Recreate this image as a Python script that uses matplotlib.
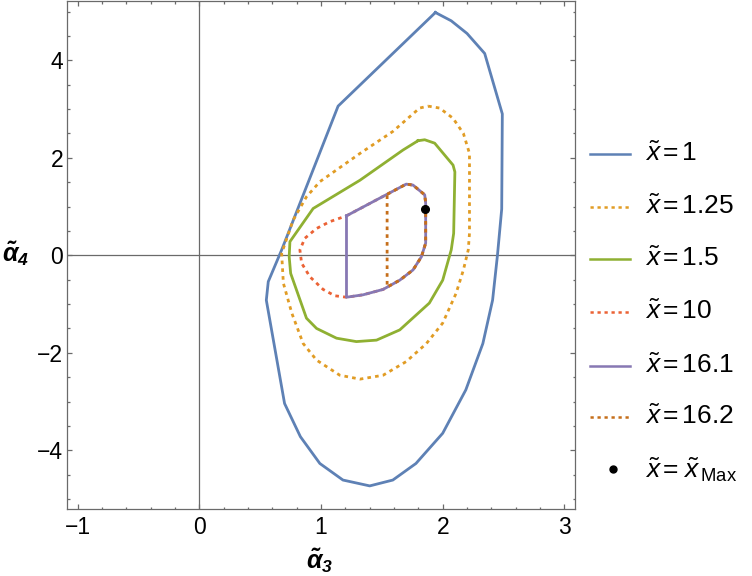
import matplotlib
matplotlib.use("Agg")
import matplotlib.pyplot as plt
from matplotlib.lines import Line2D
from matplotlib.ticker import MultipleLocator

plt.rcParams['font.family'] = ['Liberation Sans', 'DejaVu Sans']
plt.rcParams['mathtext.fontset'] = 'custom'
plt.rcParams['mathtext.rm'] = 'Liberation Sans'
plt.rcParams['mathtext.it'] = 'Liberation Sans:italic'
plt.rcParams['mathtext.bf'] = 'Liberation Sans:bold:italic'

# ---- data (alpha3, alpha4) contour outlines ----
a3_x1 = [1.94, 2.07, 2.20, 2.345, 2.49, 2.485, 2.45, 2.41, 2.33, 2.19, 2.00, 1.78, 1.59, 1.40,
         1.18, 0.99, 0.83, 0.70, 0.55, 0.566, 0.676, 1.14, 1.94]
a4_x1 = [4.98, 4.81, 4.55, 4.14, 2.90, 0.95, 0.0, -0.92, -1.81, -2.76, -3.65, -4.27, -4.61, -4.73,
         -4.61, -4.27, -3.72, -3.04, -0.92, -0.54, 0.11, 3.06, 4.98]

a3_x125 = [1.88, 1.975, 2.085, 2.17, 2.22, 2.22, 2.21, 2.17, 2.11, 2.00, 1.866, 1.70, 1.51, 1.32,
           1.154, 0.963, 0.853, 0.76, 0.69, 0.676, 0.77, 0.88, 0.99, 1.32, 1.59, 1.81, 1.88]
a4_x125 = [3.06, 3.02, 2.81, 2.50, 2.09, 0.45, 0.11, -0.30, -0.78, -1.39, -1.81, -2.18, -2.46, -2.54,
           -2.46, -2.15, -1.81, -1.19, -0.57, 0.04, 0.72, 1.20, 1.51, 2.09, 2.54, 3.02, 3.06]

a3_x15 = [1.797, 1.852, 1.934, 2.085, 2.10, 2.09, 2.07, 2.00, 1.89, 1.647, 1.456, 1.29, 1.127,
          0.963, 0.88, 0.75, 0.738, 0.744, 0.935, 1.32, 1.674, 1.797]
a4_x15 = [2.35, 2.37, 2.30, 1.85, 1.71, 0.45, 0.11, -0.51, -0.98, -1.53, -1.74, -1.77, -1.70,
          -1.50, -1.29, -0.37, -0.03, 0.28, 0.96, 1.54, 2.16, 2.35]

a3_x10 = [1.209, 1.70, 1.756, 1.852, 1.86, 1.86, 1.825, 1.756, 1.647, 1.51, 1.346, 1.209,
          1.113, 1.017, 0.908, 0.84, 0.826, 0.867, 0.963, 1.072, 1.209]
a4_x10 = [0.81, 1.46, 1.44, 1.24, 1.07, 0.25, -0.03, -0.30, -0.51, -0.70, -0.81, -0.86,
          -0.83, -0.70, -0.44, -0.16, 0.11, 0.35, 0.55, 0.69, 0.81]

a3_x161 = [1.209, 1.70, 1.756, 1.852, 1.86, 1.86, 1.825, 1.756, 1.647, 1.51, 1.346, 1.209, 1.209]
a4_x161 = [0.81, 1.46, 1.44, 1.24, 1.07, 0.25, -0.03, -0.30, -0.51, -0.70, -0.81, -0.86, 0.81]

a3_x162 = [1.543, 1.70, 1.756, 1.852, 1.86, 1.86, 1.825, 1.756, 1.647, 1.543, 1.543]
a4_x162 = [1.25, 1.46, 1.44, 1.24, 1.07, 0.25, -0.03, -0.30, -0.51, -0.65, 1.25]

a3_max = [1.855]
a4_max = [0.94]

labels = [r'$\tilde{x}\,$=$\,$1', r'$\tilde{x}\,$=$\,$1.25', r'$\tilde{x}\,$=$\,$1.5',
          r'$\tilde{x}\,$=$\,$10', r'$\tilde{x}\,$=$\,$16.1', r'$\tilde{x}\,$=$\,$16.2',
          r'$\tilde{x}\,$=$\;\tilde{x}_{\,\mathrm{Max}}$']

xticks = [-1, 0, 1, 2, 3]
yticks = [-4, -2, 0, 2, 4]

# ---- styles ----
colors = ['#5E81B5', '#E19C24', '#8FB032', '#EB6235', '#8778B3', '#C56E1A']
dotted = (0, (1.3, 1.5))
styles = ['-', dotted, '-', dotted, '-', dotted]
series = [(a3_x1, a4_x1), (a3_x125, a4_x125), (a3_x15, a4_x15),
          (a3_x10, a4_x10), (a3_x161, a4_x161), (a3_x162, a4_x162)]
LW = 2.0

fig = plt.figure(figsize=(7.52, 5.76), dpi=100)
W, H = 752, 576
L, R, T, B = 67.3, 574.7, 1.3, 509.3
ax = fig.add_axes([L / W, 1 - B / H, (R - L) / W, (B - T) / H])

gray = '#6a6a6a'
ax.axhline(0, color=gray, lw=0.9, zorder=1)
ax.axvline(0, color=gray, lw=0.9, zorder=1)

for (xs, ys), c, ls in zip(series, colors, styles):
    ax.plot(xs, ys, color=c, lw=LW, ls=ls, dash_capstyle='butt', solid_joinstyle='round', zorder=3)
ax.plot(a3_max, a4_max, 'o', color='black', ms=5.5, zorder=5)

ax.set_xlim(-1.086, 3.085)
ax.set_ylim(-5.21, 5.21)
ax.set_xticks(xticks)
ax.set_yticks(yticks)
ax.xaxis.set_minor_locator(MultipleLocator(0.2))
ax.yaxis.set_minor_locator(MultipleLocator(0.5))
ax.tick_params(which='both', direction='in', top=True, right=True, color=gray, width=0.9)
ax.tick_params(which='major', length=3.3, labelsize=16.5)
ax.tick_params(which='minor', length=1.8)
ax.tick_params(axis='x', which='major', pad=5)
ax.tick_params(axis='y', which='major', pad=3)
for s in ax.spines.values():
    s.set_color(gray)
    s.set_linewidth(0.9)

ax.set_xlabel(r'$\mathbf{\tilde{\alpha}_3}$', fontsize=18, va='center', ha='center')
ax.xaxis.set_label_coords((320 - L) / (R - L), (B - 561) / (B - T))
ax.set_ylabel(r'$\mathbf{\tilde{\alpha}_4}$', fontsize=18, rotation=0, ha='center', va='center')
ax.yaxis.set_label_coords((16 - L) / (R - L), (B - 254) / (B - T))

# ---- legend (manual, figure pixel positions) ----
rows = [154, 206.7, 259.3, 312.3, 365.7, 417.3, 469.3]
for i, yp in enumerate(rows):
    yf = 1 - yp / H
    if i < 6:
        fig.add_artist(Line2D([590 / W, 630 / W], [yf, yf], color=colors[i], lw=LW * 0.9,
                              ls=styles[i], dash_capstyle='butt', transform=fig.transFigure))
    else:
        fig.add_artist(Line2D([613 / W], [yf], marker='o', color='black', ms=5,
                              transform=fig.transFigure))
    fig.text(645 / W, yf, labels[i], fontsize=19, ha='left', va='center')

fig.savefig('out.png', dpi=100)
